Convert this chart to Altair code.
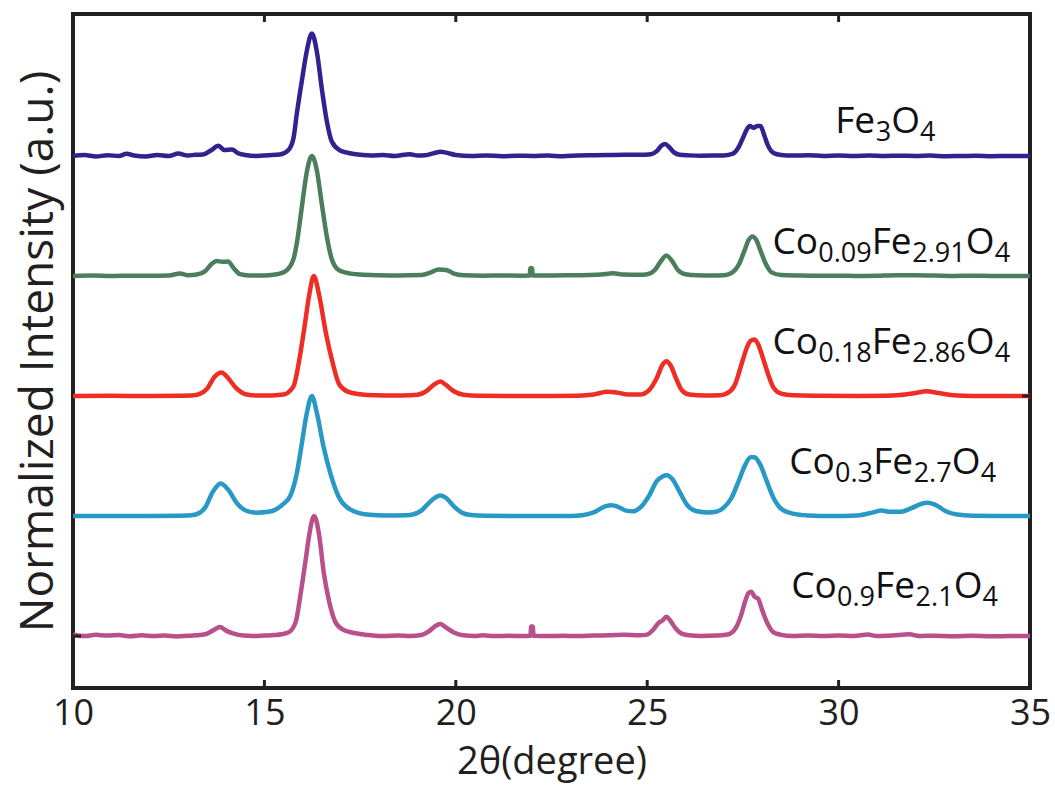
import altair as alt
import pandas as pd

# ---------------- data ----------------
series_names = ["Fe3O4", "Co0.09Fe2.91O4", "Co0.18Fe2.86O4", "Co0.3Fe2.7O4", "Co0.9Fe2.1O4"]
series_offsets = [4, 3, 2, 1, 0]
series_colors = ["#30238f", "#4b7f5c", "#ee2e24", "#2898c4", "#b8508a"]

# label pieces: (text, is_subscript)
label_parts = [
    [("Fe", False), ("3", True), ("O", False), ("4", True)],
    [("Co", False), ("0.09", True), ("Fe", False), ("2.91", True), ("O", False), ("4", True)],
    [("Co", False), ("0.18", True), ("Fe", False), ("2.86", True), ("O", False), ("4", True)],
    [("Co", False), ("0.3", True), ("Fe", False), ("2.7", True), ("O", False), ("4", True)],
    [("Co", False), ("0.9", True), ("Fe", False), ("2.1", True), ("O", False), ("4", True)],
]
# left edge (2theta) and text baseline (normalized intensity incl. offset)
label_left = [29.91, 28.27, 28.27, 28.71, 28.76]
label_base = [4.19, 3.18, 2.35, 1.35, 0.32]

x_ticks = [10, 15, 20, 25, 30, 35]
inner_ticks = [15, 20, 25, 30]

fe3o4 = [(10.0, 0.0), (10.3, 0.008), (10.6, -0.004), (10.9, 0.006), (11.2, 0.0), (11.4, 0.018),
         (11.6, 0.004), (11.9, -0.004), (12.2, 0.008), (12.5, 0.0), (12.75, 0.02), (13.0, 0.004),
         (13.2, 0.01), (13.4, 0.012), (13.6, 0.045), (13.8, 0.085), (13.95, 0.05), (14.15, 0.055),
         (14.3, 0.025), (14.5, 0.008), (14.8, 0.0), (15.1, 0.006), (15.4, 0.012), (15.63, 0.05),
         (15.76, 0.15), (15.85, 0.36), (15.98, 0.63), (16.11, 0.88), (16.24, 1.02), (16.37, 0.87),
         (16.5, 0.56), (16.63, 0.29), (16.76, 0.12), (16.98, 0.045), (17.2, 0.025), (17.5, 0.01),
         (17.8, 0.004), (18.1, 0.008), (18.4, 0.0), (18.8, 0.015), (19.0, 0.004), (19.2, 0.006),
         (19.45, 0.025), (19.6, 0.035), (19.75, 0.028), (20.0, 0.008), (20.4, 0.0), (20.8, 0.004),
         (21.2, -0.002), (21.6, 0.002), (22.0, 0.0), (22.4, 0.003), (22.8, -0.002), (23.2, 0.004),
         (23.6, 0.006), (24.0, 0.008), (24.4, 0.01), (24.8, 0.01), (25.1, 0.015), (25.25, 0.04),
         (25.37, 0.085), (25.47, 0.1), (25.57, 0.075), (25.7, 0.03), (25.85, 0.01), (26.1, 0.005),
         (26.4, 0.002), (26.7, 0.003), (27.0, 0.005), (27.24, 0.02), (27.4, 0.08), (27.5, 0.15),
         (27.6, 0.22), (27.68, 0.25), (27.78, 0.235), (27.88, 0.25), (27.96, 0.25), (28.05, 0.18),
         (28.15, 0.09), (28.3, 0.025), (28.5, 0.008), (28.8, 0.003), (29.2, 0.006), (29.6, 0.0),
         (30.0, 0.003), (30.4, 0.0), (30.8, 0.004), (31.2, 0.0), (31.6, 0.002), (32.0, 0.0),
         (32.4, 0.003), (32.8, -0.002), (33.2, 0.0), (33.6, 0.002), (34.0, -0.002), (34.4, 0.0),
         (34.8, 0.0), (35.0, 0.0)]

co009 = [(10.0, 0.0), (10.5, 0.004), (11.0, 0.0), (11.5, 0.003), (12.0, 0.002), (12.5, 0.004),
         (12.8, 0.02), (13.0, 0.006), (13.23, 0.012), (13.45, 0.04), (13.62, 0.1), (13.75, 0.125),
         (13.9, 0.118), (14.05, 0.12), (14.2, 0.065), (14.36, 0.015), (14.6, 0.005), (15.0, 0.004),
         (15.24, 0.01), (15.45, 0.025), (15.59, 0.05), (15.76, 0.14), (15.87, 0.32), (15.98, 0.58),
         (16.11, 0.87), (16.24, 1.0), (16.37, 0.88), (16.5, 0.6), (16.63, 0.33), (16.76, 0.14),
         (16.9, 0.06), (17.1, 0.03), (17.5, 0.012), (18.0, 0.006), (18.5, 0.004), (19.1, 0.008),
         (19.35, 0.03), (19.55, 0.055), (19.75, 0.05), (19.95, 0.02), (20.2, 0.006), (20.7, 0.003),
         (21.2, 0.004), (21.7, 0.003), (21.93, 0.004), (21.95, 0.065), (21.99, 0.065), (22.01, 0.004),
         (22.5, 0.004), (23.0, 0.006), (23.5, 0.008), (23.8, 0.012), (24.1, 0.022), (24.4, 0.012),
         (24.8, 0.01), (25.0, 0.015), (25.2, 0.05), (25.35, 0.12), (25.5, 0.17), (25.65, 0.125),
         (25.8, 0.05), (26.0, 0.015), (26.3, 0.006), (26.7, 0.004), (27.0, 0.006), (27.2, 0.025),
         (27.4, 0.1), (27.55, 0.22), (27.65, 0.3), (27.75, 0.33), (27.85, 0.3), (27.95, 0.22),
         (28.1, 0.1), (28.25, 0.03), (28.5, 0.008), (29.0, 0.004), (29.5, 0.002), (30.0, 0.003),
         (30.5, 0.0), (31.0, 0.002), (31.5, 0.006), (32.0, 0.006), (32.5, 0.004), (33.0, 0.0),
         (33.5, 0.002), (34.0, 0.0), (34.5, 0.0), (35.0, 0.0)]

co018 = [(10.0, 0.0), (11.0, 0.002), (12.0, 0.0), (12.8, 0.002), (13.1, 0.004), (13.3, 0.015),
         (13.5, 0.06), (13.7, 0.16), (13.88, 0.195), (14.05, 0.15), (14.25, 0.07), (14.54, 0.012),
         (14.8, 0.004), (15.2, 0.005), (15.5, 0.012), (15.76, 0.08), (15.9, 0.28), (16.04, 0.56),
         (16.17, 0.84), (16.29, 1.0), (16.43, 0.84), (16.61, 0.52), (16.78, 0.28), (16.95, 0.1),
         (17.19, 0.035), (17.5, 0.015), (17.9, 0.006), (18.4, 0.004), (18.8, 0.006), (19.0, 0.01),
         (19.25, 0.045), (19.45, 0.1), (19.6, 0.12), (19.75, 0.09), (19.95, 0.04), (20.2, 0.01),
         (20.6, 0.002), (21.5, 0.0), (22.5, 0.0), (23.2, 0.002), (23.6, 0.012), (23.95, 0.035),
         (24.2, 0.03), (24.5, 0.012), (24.8, 0.012), (25.05, 0.05), (25.25, 0.15), (25.4, 0.26),
         (25.5, 0.29), (25.62, 0.25), (25.75, 0.15), (25.9, 0.05), (26.1, 0.012), (26.5, 0.004),
         (26.9, 0.006), (27.1, 0.025), (27.3, 0.1), (27.45, 0.25), (27.6, 0.4), (27.7, 0.46),
         (27.8, 0.47), (27.9, 0.43), (28.0, 0.34), (28.15, 0.19), (28.3, 0.07), (28.5, 0.02),
         (28.8, 0.006), (29.5, 0.002), (30.5, 0.0), (31.2, 0.002), (31.6, 0.008), (32.0, 0.025),
         (32.3, 0.04), (32.6, 0.025), (33.0, 0.006), (33.5, 0.0), (34.2, 0.0), (35.0, 0.0)]

co03 = [(10.0, 0.0), (11.0, 0.0), (12.0, 0.0), (12.8, 0.002), (13.1, 0.006), (13.3, 0.025),
        (13.45, 0.07), (13.65, 0.2), (13.86, 0.27), (14.05, 0.22), (14.3, 0.1), (14.55, 0.04),
        (14.8, 0.028), (15.1, 0.035), (15.3, 0.055), (15.49, 0.1), (15.68, 0.17), (15.85, 0.36),
        (15.98, 0.61), (16.11, 0.86), (16.24, 1.0), (16.37, 0.86), (16.55, 0.57), (16.72, 0.36),
        (16.94, 0.16), (17.24, 0.055), (17.68, 0.012), (18.2, 0.004), (18.7, 0.006), (18.9, 0.015),
        (19.1, 0.045), (19.3, 0.11), (19.5, 0.16), (19.6, 0.17), (19.75, 0.15), (19.95, 0.08),
        (20.15, 0.03), (20.4, 0.008), (20.8, 0.002), (21.5, 0.0), (22.5, 0.0), (23.0, 0.0),
        (23.3, 0.006), (23.6, 0.03), (23.9, 0.08), (24.07, 0.09), (24.25, 0.075), (24.45, 0.045),
        (24.63, 0.04), (24.85, 0.08), (25.05, 0.17), (25.25, 0.29), (25.4, 0.33), (25.52, 0.34),
        (25.65, 0.31), (25.85, 0.2), (26.05, 0.09), (26.3, 0.04), (26.6, 0.03), (26.8, 0.035),
        (27.0, 0.07), (27.2, 0.15), (27.4, 0.3), (27.55, 0.42), (27.7, 0.49), (27.8, 0.49),
        (27.95, 0.43), (28.1, 0.31), (28.3, 0.15), (28.5, 0.06), (28.8, 0.02), (29.2, 0.005),
        (29.8, 0.0), (30.5, 0.005), (30.9, 0.03), (31.12, 0.045), (31.35, 0.035), (31.6, 0.035),
        (31.9, 0.065), (32.15, 0.1), (32.33, 0.11), (32.55, 0.09), (32.8, 0.04), (33.1, 0.012),
        (33.5, 0.002), (34.2, 0.0), (35.0, 0.0)]

co09 = [(10.0, 0.01), (10.3, 0.0), (10.6, 0.01), (10.9, 0.004), (11.2, 0.008), (11.5, -0.002),
        (11.8, 0.006), (12.1, 0.0), (12.4, 0.004), (12.7, -0.004), (13.0, 0.002), (13.2, 0.006),
        (13.45, 0.015), (13.65, 0.045), (13.84, 0.075), (14.0, 0.045), (14.2, 0.02), (14.45, 0.004),
        (14.7, 0.0), (15.0, 0.004), (15.25, 0.008), (15.45, 0.015), (15.65, 0.035), (15.82, 0.12),
        (15.95, 0.36), (16.08, 0.64), (16.17, 0.84), (16.25, 0.97), (16.3, 1.0), (16.43, 0.84),
        (16.55, 0.53), (16.69, 0.29), (16.85, 0.12), (17.07, 0.05), (17.5, 0.017), (17.8, 0.006),
        (18.1, 0.0), (18.5, 0.004), (18.8, 0.0), (19.1, 0.008), (19.3, 0.04), (19.5, 0.09),
        (19.6, 0.1), (19.75, 0.07), (19.95, 0.03), (20.2, 0.006), (20.5, 0.0), (20.7, 0.006),
        (21.0, 0.0), (21.4, 0.002), (21.7, 0.0), (21.95, 0.002), (21.97, 0.08), (22.01, 0.08),
        (22.03, 0.002), (22.4, 0.0), (22.8, 0.002), (23.2, 0.0), (23.6, 0.004), (24.0, 0.006),
        (24.4, 0.01), (24.8, 0.006), (25.0, 0.012), (25.15, 0.05), (25.3, 0.11), (25.4, 0.13),
        (25.5, 0.16), (25.6, 0.13), (25.75, 0.06), (25.9, 0.02), (26.1, 0.006), (26.4, 0.0),
        (26.8, 0.004), (27.1, 0.012), (27.3, 0.06), (27.45, 0.17), (27.55, 0.28), (27.65, 0.36),
        (27.72, 0.37), (27.8, 0.33), (27.9, 0.31), (28.0, 0.22), (28.15, 0.1), (28.3, 0.03),
        (28.5, 0.01), (28.8, 0.0), (29.2, 0.004), (29.6, 0.0), (30.0, 0.004), (30.4, 0.0),
        (30.77, 0.012), (31.0, 0.0), (31.4, 0.004), (31.85, 0.014), (32.1, 0.0), (32.5, 0.003),
        (33.0, -0.002), (33.5, 0.002), (34.0, -0.002), (34.5, 0.0), (35.0, 0.0)]

series_points = [fe3o4, co009, co018, co03, co09]

# ---------------- layout / style ----------------
FONT = "Open Sans"
INK = "#231f20"
W, H = 957, 674
X0, X1 = 10, 35
Y0, Y1 = -0.433, 5.183
MAIN_FS, SUB_FS, SUB_DROP = 37, 27, 8
# approximate Open Sans advance widths (em) to lay the label pieces side by side
ADV = {"C": 0.635, "o": 0.604, "F": 0.535, "e": 0.561, "O": 0.781, ".": 0.266}

# ---------------- build tables ----------------
rows = []
for name, off, pts in zip(series_names, series_offsets, series_points):
    for x, y in pts:
        rows.append({"x": x, "y": y + off, "series": name})
df = pd.DataFrame(rows)

units_per_px_x = (X1 - X0) / W
units_per_px_y = (Y1 - Y0) / H
main_rows, sub_rows = [], []
for parts, lx, by in zip(label_parts, label_left, label_base):
    cursor = 0.0
    for txt, is_sub in parts:
        fs = SUB_FS if is_sub else MAIN_FS
        row = {"x": lx + cursor * units_per_px_x,
               "y": by - (SUB_DROP * units_per_px_y if is_sub else 0.0),
               "t": txt}
        (sub_rows if is_sub else main_rows).append(row)
        cursor += sum(ADV.get(ch, 0.572) for ch in txt) * fs
main_df = pd.DataFrame(main_rows)
sub_df = pd.DataFrame(sub_rows)

ticks_df = pd.DataFrame({"x": inner_ticks})
ytick_left = pd.DataFrame({"y": [0]})
ytick_right = pd.DataFrame({"y": [2]})

xscale = alt.Scale(domain=[X0, X1], nice=False, zero=False)
yscale = alt.Scale(domain=[Y0, Y1], nice=False, zero=False)

lines = alt.Chart(df).mark_line(interpolate="monotone", strokeWidth=4.5).encode(
    x=alt.X("x:Q", scale=xscale,
            axis=alt.Axis(values=x_ticks, title="2θ(degree)", tickSize=0, domain=False,
                          grid=False, labelFlush=False, labelOverlap=False, labelPadding=8,
                          labelFontSize=36, labelFont=FONT, labelColor=INK,
                          titleFontSize=38, titleFont=FONT, titleFontWeight="normal",
                          titleColor=INK, titlePadding=12)),
    y=alt.Y("y:Q", scale=yscale,
            axis=alt.Axis(title="Normalized Intensity (a.u.)", labels=False, ticks=False,
                          domain=False, grid=False, titleFontSize=46, titleFont=FONT,
                          titleFontWeight="normal", titleColor=INK, titlePadding=11)),
    color=alt.Color("series:N", scale=alt.Scale(domain=series_names, range=series_colors),
                    legend=None),
    detail="series:N",
)

main_text = alt.Chart(main_df).mark_text(font=FONT, fontSize=MAIN_FS, color="#111111",
                                         align="left", baseline="alphabetic").encode(
    x=alt.X("x:Q", scale=xscale), y=alt.Y("y:Q", scale=yscale), text="t:N")
sub_text = alt.Chart(sub_df).mark_text(font=FONT, fontSize=SUB_FS, color="#111111",
                                       align="left", baseline="alphabetic").encode(
    x=alt.X("x:Q", scale=xscale), y=alt.Y("y:Q", scale=yscale), text="t:N")

bottom_ticks = alt.Chart(ticks_df).mark_rule(color=INK, strokeWidth=3).encode(
    x=alt.X("x:Q", scale=xscale), y=alt.value(H), y2=alt.value(H - 8))
top_ticks = alt.Chart(ticks_df).mark_rule(color=INK, strokeWidth=3).encode(
    x=alt.X("x:Q", scale=xscale), y=alt.value(0), y2=alt.value(8))
left_tick = alt.Chart(ytick_left).mark_rule(color=INK, strokeWidth=3).encode(
    y=alt.Y("y:Q", scale=yscale), x=alt.value(0), x2=alt.value(8))
right_tick = alt.Chart(ytick_right).mark_rule(color=INK, strokeWidth=3).encode(
    y=alt.Y("y:Q", scale=yscale), x=alt.value(W - 8), x2=alt.value(W))

chart = alt.layer(lines, main_text, sub_text, bottom_ticks, top_ticks, left_tick,
                  right_tick).properties(
    width=W, height=H,
    padding={"left": 73, "top": 14, "right": 25, "bottom": 99},
    autosize=alt.AutoSizeParams(type="none"),
    background="white",
).configure_view(stroke=INK, strokeWidth=4)

chart.save("out.html", embed_options={"renderer": "svg", "actions": False})
